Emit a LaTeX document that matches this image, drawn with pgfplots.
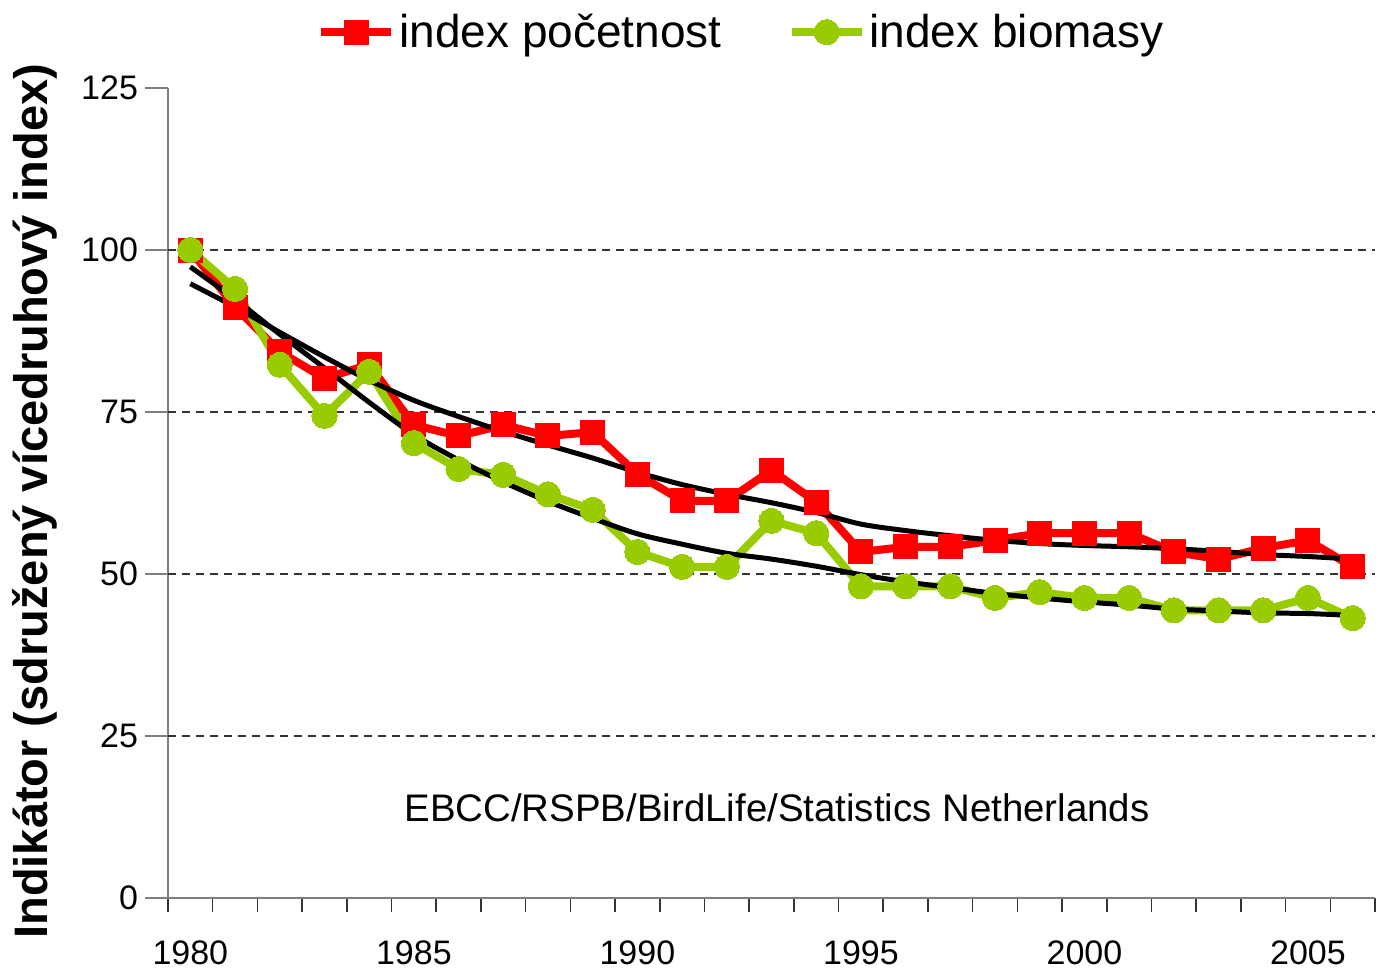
\documentclass[border=0pt]{standalone}
\usepackage{fontspec}
\setmainfont{Liberation Sans}
\usepackage{pgfplots}
\pgfplotsset{compat=1.18}
\usetikzlibrary{calc}
\definecolor{cred}{HTML}{FF0000}
\definecolor{cgreen}{HTML}{99CC00}
\definecolor{axgray}{HTML}{7F7F7F}

\pgfplotstableread{
year pocet bio tpocet tbio
1980 100.0 100.0 94.8 97.4
1981 91.2 94.0 91.2 92.4
1982 84.3 82.3 87.3 87.0
1983 80.2 74.4 83.5 81.8
1984 82.3 81.2 79.9 76.5
1985 73.0 70.2 76.8 71.5
1986 71.3 66.2 74.3 67.6
1987 73.0 65.3 72.0 64.2
1988 71.3 62.3 69.9 61.2
1989 71.9 59.9 67.9 58.6
1990 65.4 53.4 65.7 56.2
1991 61.3 51.1 63.8 54.6
1992 61.3 51.1 62.3 53.2
1993 66.0 58.2 61.0 52.3
1994 61.1 56.3 59.5 51.2
1995 53.4 48.1 57.7 49.9
1996 54.2 48.1 56.7 48.8
1997 54.2 48.1 55.9 47.9
1998 55.2 46.3 55.2 47.0
1999 56.3 47.2 54.7 46.3
2000 56.3 46.3 54.4 45.7
2001 56.3 46.3 54.2 45.2
2002 53.4 44.4 53.9 44.6
2003 52.3 44.4 53.5 44.3
2004 54.0 44.4 53.0 44.0
2005 55.2 46.3 52.7 43.9
2006 51.1 43.2 52.3 43.6
}\datatab

\begin{document}
\begin{tikzpicture}
\begin{axis}[
  scale only axis, width=603.5pt, height=405pt,
  xmin=1979.5, xmax=2006.5, ymin=0, ymax=125,
  axis lines=left,
  axis line style={-, draw=axgray, line width=1pt},
  tick align=outside,
  xtick={1980,1985,...,2005},
  major x tick style={draw=none},
  minor xtick={1979.5,1980.5,...,2006.5},
  minor x tick style={draw=black!80, line width=0.8pt},
  minor tick length=7pt,
  ytick={0,25,...,125},
  major y tick style={draw=axgray, line width=1pt},
  major tick length=11.5pt,
  xticklabel style={font=\fontsize{17}{19}\selectfont, yshift=-6.5pt},
  yticklabel style={font=\fontsize{17}{19}\selectfont},
  /pgf/number format/assume math mode=true,
  /pgf/number format/1000 sep={},
  extra y ticks={25,50,75,100},
  extra y tick labels={},
  extra y tick style={grid=major, major tick length=0pt},
  grid style={draw=black!80, line width=0.6pt, dash pattern=on 4pt off 3pt},
  ylabel={\bfseries Indikátor (sdružený vícedruhový index)},
  ylabel style={font=\fontsize{23.5}{26}\selectfont, at={(axis description cs:0,0.49)}, anchor=center, yshift=66.5pt},
  legend columns=2,
  legend style={at={(rel axis cs:0.476,1.069)}, anchor=center, draw=none, fill=none,
    font=\fontsize{23}{26}\selectfont,
    /tikz/every even column/.append style={column sep=31pt}},
  legend image code/.code={\draw[mark repeat=2,mark phase=2] plot coordinates {(0pt,0pt)(17.5pt,0pt)(35pt,0pt)};},
  clip=false,
]
\addplot[cred, line width=4pt, mark=square*, mark size=6pt, mark options={solid, fill=cred, draw=cred, line width=0pt}] table[x=year, y=pocet] {\datatab};
\addlegendentry{index početnost}
\addplot[cgreen, line width=4pt, mark=*, mark size=6.3pt, mark options={solid, fill=cgreen, draw=cgreen, line width=0pt}] table[x=year, y=bio] {\datatab};
\addlegendentry{index biomasy}
\addplot[black, line width=2.5pt, smooth, forget plot] table[x=year, y=tpocet] {\datatab};
\addplot[black, line width=2.5pt, smooth, forget plot] table[x=year, y=tbio] {\datatab};
\node[font=\fontsize{19.2}{22}\selectfont] at (rel axis cs:0.5046,0.111) {EBCC/RSPB/BirdLife/Statistics Netherlands};
\coordinate (O) at (rel axis cs:0,0);
\coordinate (T) at (rel axis cs:1,1);
\end{axis}
\pgfresetboundingbox
\path[use as bounding box] ($(O)+(-84pt,-36.5pt)$) rectangle ($(T)+(1.5pt,44pt)$);
\end{tikzpicture}
\end{document}
